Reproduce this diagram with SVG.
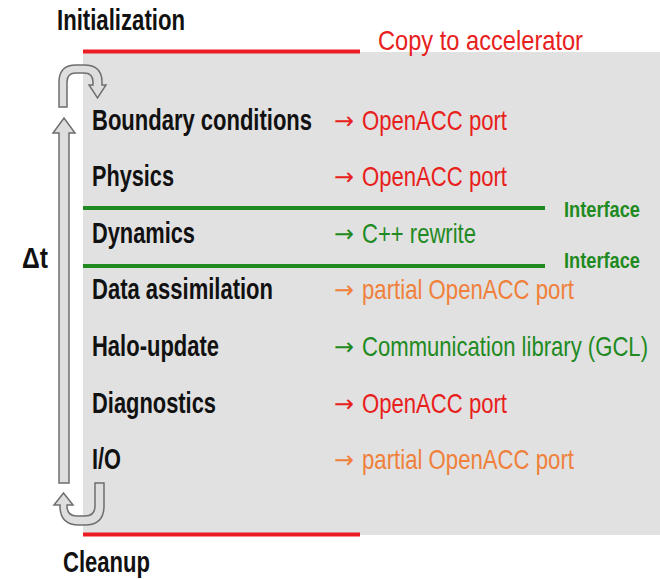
<svg xmlns="http://www.w3.org/2000/svg" width="660" height="579" viewBox="0 0 660 579">
  <style>
    text { font-family: "Liberation Sans", Arial, sans-serif; }
    .lbl { font-size: 29px; font-weight: bold; fill: #111; }
    .act { font-size: 28px; }
    .arw { font-family: "DejaVu Sans", sans-serif; font-size: 24px; }
    .red { fill: #e8201c; }
    .org { fill: #f0803a; }
    .grn { fill: #1f8a1f; }
    .ifc { font-size: 22px; font-weight: bold; fill: #1f8a1f; }
    .flow { fill: #dedede; stroke: #6e6e6e; stroke-width: 1.5; stroke-linejoin: miter; }
  </style>

  <!-- accelerator region -->
  <g id="accelerator">
    <rect x="83" y="52" width="577" height="483" fill="#e1e1e1"/>
    <rect x="83" y="49.5" width="277" height="4" fill="#ec1c24"/>
    <rect x="83" y="532.5" width="277" height="4" fill="#ec1c24"/>
    <text class="act red" x="378" y="50" textLength="205" lengthAdjust="spacingAndGlyphs">Copy to accelerator</text>
  </g>

  <g id="initialization">
    <text class="lbl" x="57" y="30" textLength="128" lengthAdjust="spacingAndGlyphs">Initialization</text>
  </g>
  <g id="cleanup">
    <text class="lbl" x="63" y="572" textLength="87" lengthAdjust="spacingAndGlyphs">Cleanup</text>
  </g>
  <g id="timestep">
    <text class="lbl" x="22" y="268" textLength="26" lengthAdjust="spacingAndGlyphs">Δt</text>
  </g>

  <!-- interface boundaries around the dynamics -->
  <g id="interfaces">
    <rect x="83" y="206" width="462" height="4" fill="#1f8a1f"/>
    <rect x="83" y="264" width="462" height="4" fill="#1f8a1f"/>
    <text class="ifc" x="564" y="217" textLength="76" lengthAdjust="spacingAndGlyphs">Interface</text>
    <text class="ifc" x="564" y="268" textLength="76" lengthAdjust="spacingAndGlyphs">Interface</text>
  </g>

  <g id="boundary">
    <text class="lbl" x="92" y="130" textLength="220" lengthAdjust="spacingAndGlyphs">Boundary conditions</text>
    <text class="arw red" x="334" y="129" textLength="20" lengthAdjust="spacingAndGlyphs">→</text>
    <text class="act red" x="362" y="130" textLength="145" lengthAdjust="spacingAndGlyphs">OpenACC port</text>
  </g>
  <g id="physics">
    <text class="lbl" x="92" y="186" textLength="82" lengthAdjust="spacingAndGlyphs">Physics</text>
    <text class="arw red" x="334" y="185" textLength="20" lengthAdjust="spacingAndGlyphs">→</text>
    <text class="act red" x="362" y="186" textLength="145" lengthAdjust="spacingAndGlyphs">OpenACC port</text>
  </g>
  <g id="dynamics">
    <text class="lbl" x="92" y="243" textLength="103" lengthAdjust="spacingAndGlyphs">Dynamics</text>
    <text class="arw grn" x="334" y="242" textLength="20" lengthAdjust="spacingAndGlyphs">→</text>
    <text class="act grn" x="362" y="243" textLength="114" lengthAdjust="spacingAndGlyphs">C++ rewrite</text>
  </g>
  <g id="assimilation">
    <text class="lbl" x="92" y="299" textLength="181" lengthAdjust="spacingAndGlyphs">Data assimilation</text>
    <text class="arw org" x="334" y="298" textLength="20" lengthAdjust="spacingAndGlyphs">→</text>
    <text class="act org" x="362" y="299" textLength="212" lengthAdjust="spacingAndGlyphs">partial OpenACC port</text>
  </g>
  <g id="halo">
    <text class="lbl" x="92" y="356" textLength="127" lengthAdjust="spacingAndGlyphs">Halo-update</text>
    <text class="arw grn" x="334" y="355" textLength="20" lengthAdjust="spacingAndGlyphs">→</text>
    <text class="act grn" x="362" y="356" textLength="286" lengthAdjust="spacingAndGlyphs">Communication library (GCL)</text>
  </g>
  <g id="diagnostics">
    <text class="lbl" x="92" y="413" textLength="124" lengthAdjust="spacingAndGlyphs">Diagnostics</text>
    <text class="arw red" x="334" y="412" textLength="20" lengthAdjust="spacingAndGlyphs">→</text>
    <text class="act red" x="362" y="413" textLength="145" lengthAdjust="spacingAndGlyphs">OpenACC port</text>
  </g>
  <g id="io">
    <text class="lbl" x="92" y="469" textLength="29" lengthAdjust="spacingAndGlyphs">I/O</text>
    <text class="arw org" x="334" y="468" textLength="20" lengthAdjust="spacingAndGlyphs">→</text>
    <text class="act org" x="362" y="469" textLength="212" lengthAdjust="spacingAndGlyphs">partial OpenACC port</text>
  </g>

  <!-- time-loop arrows -->
  <g id="connectors">
    <path class="flow" d="M59,107 V82 Q59,65 76,65 H84 Q102,65 102,82 V85 H106 L97.5,98 L89,85 H93 V82 Q93,73 84,73 H76 Q67,73 67,82 V107 Z"/>
    <path class="flow" d="M59,483 V133 H53 L64,118 L75,133 H69 V483 Z"/>
    <path class="flow" d="M95,483 V506 Q95,516 85,516 H77 Q67,516 67,506 V505 H73 L63.5,493 L54,505 H60 V506 Q60,525 79,525 H85 Q104,525 104,506 V483 Z"/>
  </g>
</svg>
